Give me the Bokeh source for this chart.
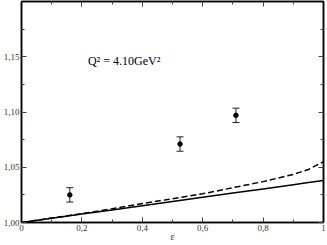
from bokeh.plotting import figure
from bokeh.models import (LinearAxis, FixedTicker, Whisker, ColumnDataSource,
                          Label, Range1d, TeeHead)
from bokeh.embed import file_html
from bokeh.resources import INLINE

# ---- data ----
eps_data = [0.16, 0.525, 0.71]
ratio_data = [1.025, 1.071, 1.097]
ratio_err = [0.0065, 0.0065, 0.0065]

curve_x = [0.0, 0.1, 0.2, 0.3, 0.4, 0.5, 0.6, 0.7, 0.8, 0.9, 0.95, 1.0]
solid_y = [1.0, 1.0038, 1.0076, 1.0114, 1.0152, 1.019, 1.0228, 1.0266, 1.0304, 1.0342, 1.0361, 1.038]
dashed_y = [1.0, 1.0040, 1.0080, 1.0125, 1.0172, 1.0215, 1.0260, 1.0315, 1.0370, 1.0435, 1.0480, 1.0550]

x_ticks = [0.0, 0.2, 0.4, 0.6, 0.8, 1.0]
x_tick_labels = ["0", "0,2", "0,4", "0,6", "0,8", "1"]
x_minor = [0.1, 0.3, 0.5, 0.7, 0.9]
y_ticks = [1.00, 1.05, 1.10, 1.15]
y_tick_labels = ["1,00", "1,05", "1,10", "1,15"]
y_minor = [1.025, 1.075, 1.125, 1.175]

annotation = "Q² = 4.10GeV²"
x_title = "ε"

FONT = "Liberation Serif"

p = figure(width=327, height=244, output_backend="svg", toolbar_location=None,
           x_range=Range1d(0, 1), y_range=Range1d(1.0, 1.2),
           x_axis_location=None, y_axis_location=None,
           min_border_left=18, min_border_right=4, min_border_top=1, min_border_bottom=20)
p.grid.visible = False
p.outline_line_color = "black"
p.outline_line_width = 1.5
p.background_fill_color = "white"
p.border_fill_color = "white"

def style_axis(ax, ticks, minor, labels, show_labels):
    ax.ticker = FixedTicker(ticks=ticks, minor_ticks=minor)
    ax.major_tick_in = 5
    ax.major_tick_out = 0
    ax.minor_tick_in = 3
    ax.minor_tick_out = 0
    ax.axis_line_color = "black"
    ax.axis_line_width = 1.5
    ax.major_tick_line_color = "#444"
    ax.minor_tick_line_color = "#444"
    ax.major_label_text_font = FONT
    ax.major_label_text_color = "#333"
    if show_labels:
        ax.major_label_overrides = {t: l for t, l in zip(ticks, labels)}
        ax.major_label_text_font_size = "9px"
        ax.major_label_standoff = 2
    else:
        ax.major_label_overrides = {t: "" for t in ticks}
        ax.major_label_text_font_size = "1px"
        ax.major_label_standoff = 0

xb = LinearAxis(axis_label=x_title)
style_axis(xb, x_ticks, x_minor, x_tick_labels, True)
xb.axis_label_text_font = FONT
xb.axis_label_text_font_size = "11px"
xb.axis_label_text_font_style = "normal"
xb.axis_label_standoff = -4
p.add_layout(xb, "below")

yl = LinearAxis()
style_axis(yl, y_ticks, y_minor, y_tick_labels, True)
p.add_layout(yl, "left")

xt = LinearAxis()
style_axis(xt, x_ticks, x_minor, x_tick_labels, False)
p.add_layout(xt, "above")

yr = LinearAxis()
style_axis(yr, y_ticks, y_minor, y_tick_labels, False)
p.add_layout(yr, "right")

# curves
p.line(curve_x, solid_y, line_color="black", line_width=1.5)
p.line(curve_x, dashed_y, line_color="black", line_width=1.5, line_dash="6 3")

# data with error bars
src = ColumnDataSource(dict(
    x=eps_data, y=ratio_data,
    lo=[v - e for v, e in zip(ratio_data, ratio_err)],
    hi=[v + e for v, e in zip(ratio_data, ratio_err)]))
w = Whisker(source=src, base="x", lower="lo", upper="hi",
            line_color="#222", line_width=1,
            upper_head=TeeHead(size=7, line_color="#222", line_width=1),
            lower_head=TeeHead(size=7, line_color="#222", line_width=1))
p.add_layout(w)
p.scatter("x", "y", source=src, size=4.5, color="black")

p.add_layout(Label(x=0.22, y=1.146, text=annotation, text_font=FONT,
                   text_font_size="12px", text_color="black",
                   text_baseline="alphabetic"))

open("out.html", "w").write(file_html(p, INLINE))
